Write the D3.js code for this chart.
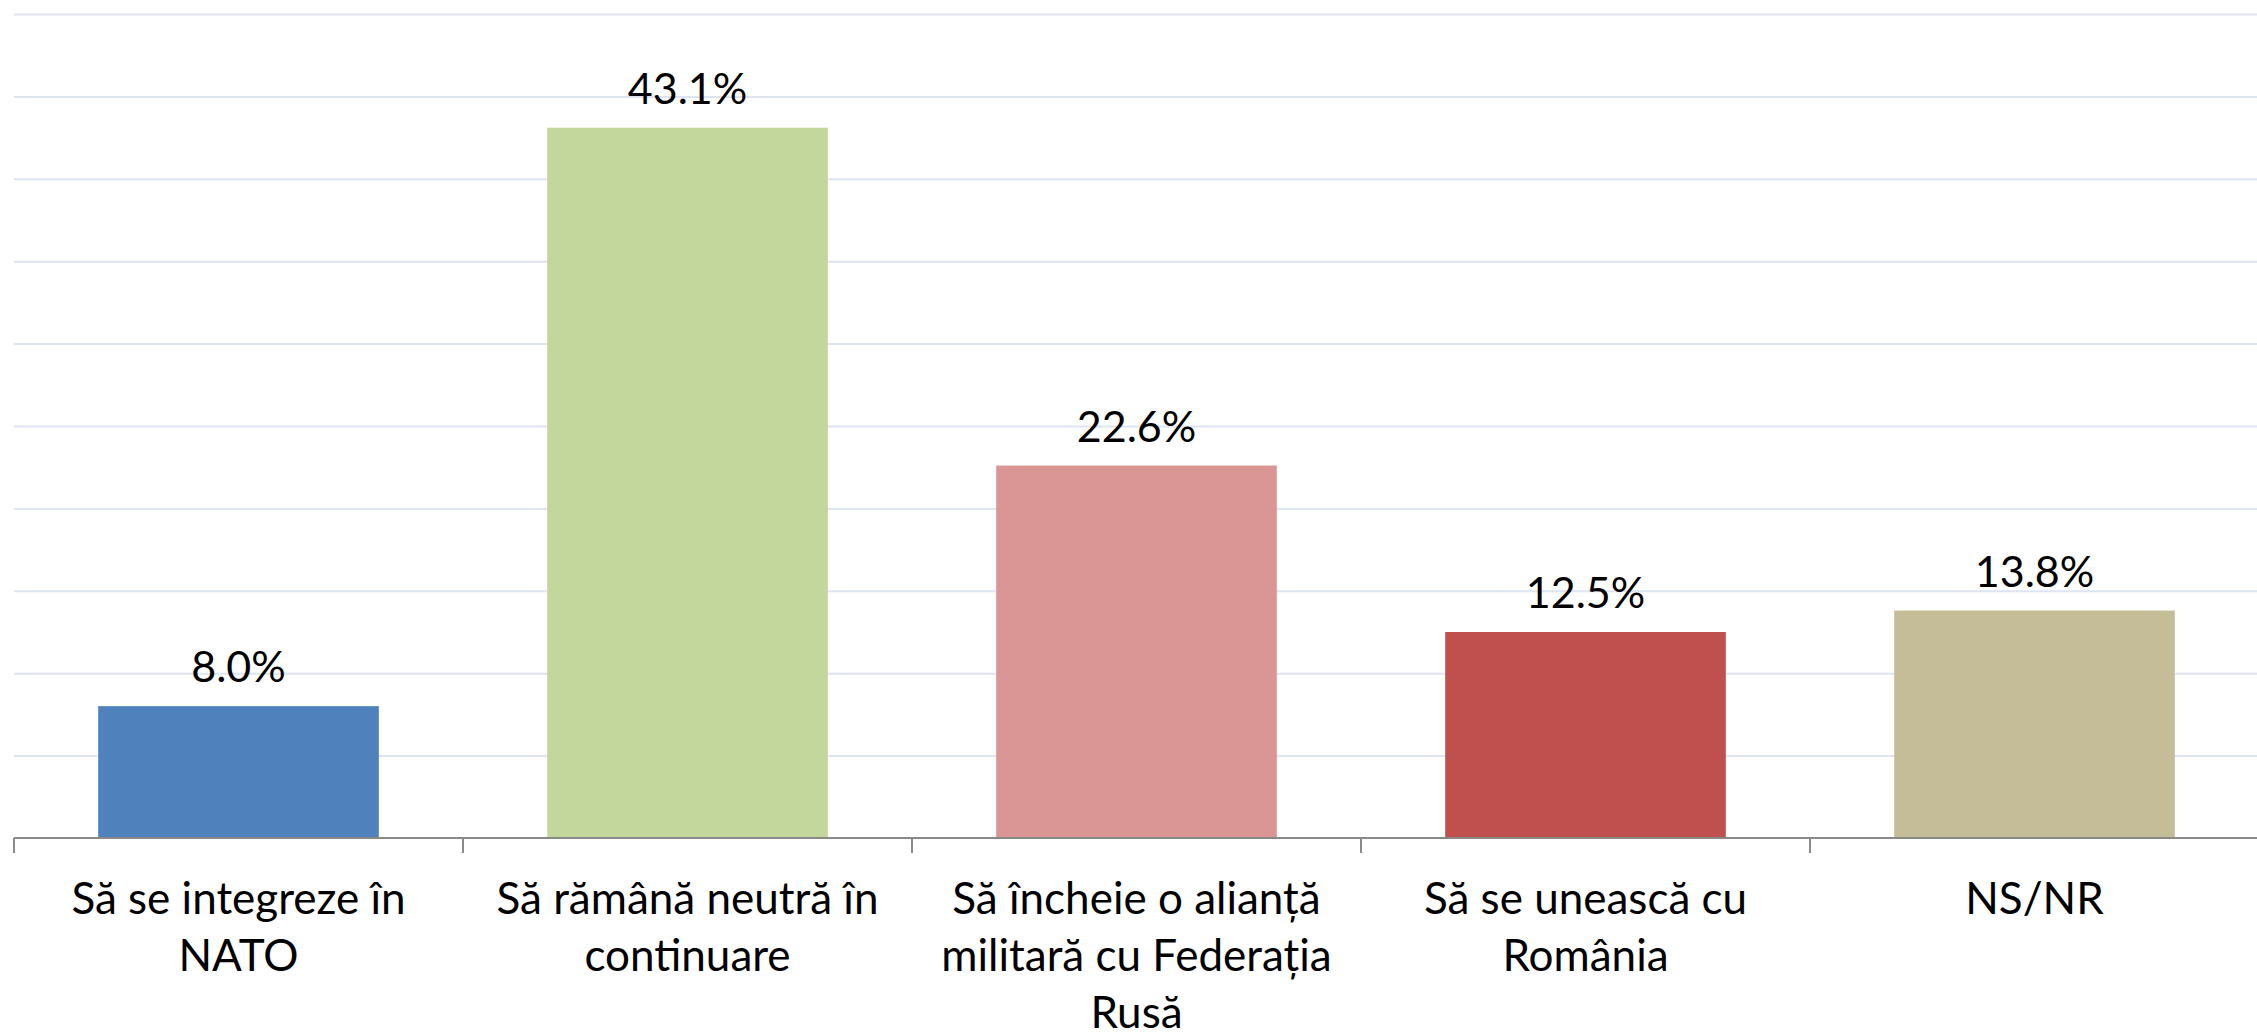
<!DOCTYPE html>
<html>
<head>
<meta charset="utf-8">
<script src="https://cdn.jsdelivr.net/npm/d3@7"></script>
<style>
  body { margin: 0; background: #fff; }
  svg { display: block; }
  .grid line { stroke: #dce5f1; stroke-width: 2px; }
  .grid path { display: none; }
  text { font-family: Lato, "Open Sans", sans-serif; fill: #000; }
</style>
</head>
<body>
<svg width="2257" height="1035"></svg>
<script>
// data
var categories = ["Să se integreze în NATO", "Să rămână neutră în continuare",
                  "Să încheie o alianță militară cu Federația Rusă",
                  "Să se unească cu România", "NS/NR"];
var values = [8.0, 43.1, 22.6, 12.5, 13.8];
var colors = ["#4f81bd", "#c3d69b", "#d99694", "#c0504d", "#c4bd97"];
var yTicks = [0, 5, 10, 15, 20, 25, 30, 35, 40, 45, 50];

var svg = d3.select("svg"),
    margin = {top: 14, right: -2, bottom: 197, left: 14},
    width = +svg.attr("width") - margin.left - margin.right,
    height = +svg.attr("height") - margin.top - margin.bottom,
    g = svg.append("g").attr("transform", "translate(" + margin.left + "," + margin.top + ")");

var x = d3.scaleBand().domain(categories).range([0, width])
    .paddingInner(0.375).paddingOuter(0.1875);
var y = d3.scaleLinear().domain([0, 50]).range([height, 0]);
var z = d3.scaleOrdinal().domain(categories).range(colors);

// horizontal gridlines
g.append("g")
    .attr("class", "grid")
    .call(d3.axisLeft(y).tickValues(yTicks.slice(1)).tickSize(-width).tickFormat(""));

// bars
g.selectAll(".bar")
  .data(categories)
  .enter().append("rect")
    .attr("class", "bar")
    .attr("x", function(d) { return x(d); })
    .attr("y", function(d, i) { return y(values[i]); })
    .attr("width", x.bandwidth())
    .attr("height", function(d, i) { return height - y(values[i]); })
    .style("fill", function(d) { return z(d); });

// value labels
g.selectAll(".value")
  .data(categories)
  .enter().append("text")
    .attr("class", "value")
    .attr("x", function(d) { return x(d) + x.bandwidth() / 2; })
    .attr("y", function(d, i) { return y(values[i]) - 24; })
    .attr("text-anchor", "middle")
    .style("font-size", "43px")
    .text(function(d, i) { return values[i].toFixed(1) + "%"; });

// x axis line and category boundary ticks
var step = x.step();
var axis = g.append("g").attr("class", "axis axis--x").attr("transform", "translate(0," + height + ")");
axis.append("line")
    .attr("x1", 0).attr("x2", width)
    .attr("stroke", "#898989").attr("stroke-width", 2);
axis.selectAll(".tick")
  .data(categories)
  .enter().append("line")
    .attr("class", "tick")
    .attr("x1", function(d) { return x(d) - step * x.paddingOuter(); })
    .attr("x2", function(d) { return x(d) - step * x.paddingOuter(); })
    .attr("y1", 0).attr("y2", 15)
    .attr("stroke", "#898989").attr("stroke-width", 2);

// category labels, wrapped to the band
axis.selectAll(".cat")
  .data(categories)
  .enter().append("text")
    .attr("class", "cat")
    .attr("text-anchor", "middle")
    .attr("transform", function(d) { return "translate(" + (x(d) + x.bandwidth() / 2) + ",76)"; })
    .style("font-size", "44px")
    .each(function(d) { wrap(d3.select(this), d, 420); });

function wrap(text, str, maxW) {
  var words = str.split(" "), line = [],
      tspan = text.append("tspan").attr("x", 0).attr("dy", 0);
  words.forEach(function(w) {
    line.push(w);
    tspan.text(line.join(" "));
    if (tspan.node().getComputedTextLength() > maxW && line.length > 1) {
      line.pop();
      tspan.text(line.join(" "));
      line = [w];
      tspan = text.append("tspan").attr("x", 0).attr("dy", 57).text(w);
    }
  });
}
</script>
</body>
</html>
